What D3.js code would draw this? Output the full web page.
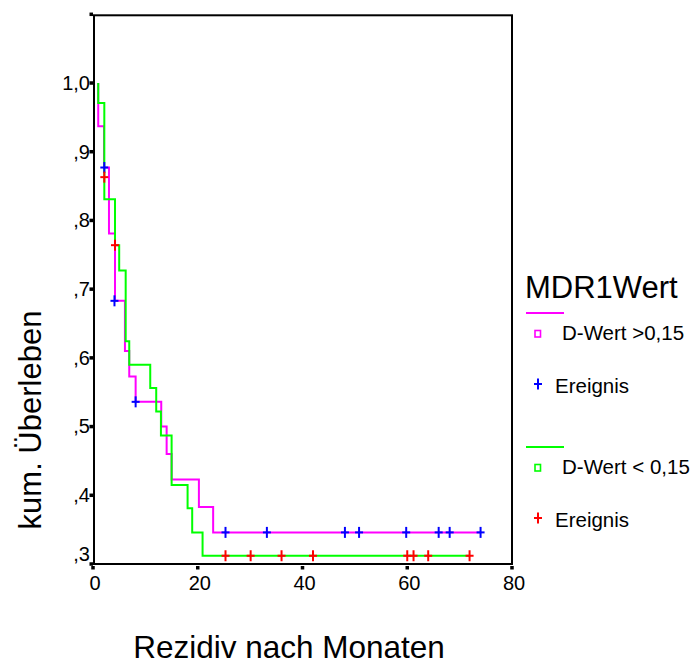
<!DOCTYPE html>
<html>
<head>
<meta charset="utf-8">
<script src="https://cdn.jsdelivr.net/npm/d3@7"></script>
<style>
  body { margin: 0; background: #fff; }
  svg text { font-family: Arial, "Liberation Sans", sans-serif; fill: #000; }
</style>
</head>
<body>
<div id="chart"></div>
<script>
// Kaplan-Meier steps (months, kum. Ueberleben)
const highTimes = [1.0, 1.0, 2.1, 3.05, 4.2, 6.1, 6.92, 8.14, 13.03, 14.06, 15.01, 20.22, 22.94, 74.0];
const highSurv = [1.0, 0.937, 0.877, 0.781, 0.683, 0.61, 0.573, 0.536, 0.5, 0.46, 0.423, 0.383, 0.346, 0.346];
const highCensorTimes = [2.16, 4.1, 8.14, 25.3, 33.2, 48.1, 50.8, 59.8, 66.0, 68.1, 74.0];
const highCensorSurv = [0.877, 0.683, 0.536, 0.346, 0.346, 0.346, 0.346, 0.346, 0.346, 0.346, 0.346];

const lowTimes = [1.0, 1.0, 2.16, 4.2, 5.0, 6.24, 6.92, 10.93, 12.07, 12.97, 15.01, 18.06, 18.94, 20.92, 72.0];
const lowSurv = [1.0, 0.971, 0.831, 0.764, 0.727, 0.624, 0.59, 0.556, 0.522, 0.487, 0.415, 0.381, 0.346, 0.312, 0.312];
const lowCensorTimes = [2.16, 4.2, 25.3, 30.1, 36.0, 42.0, 60.0, 61.2, 64.0, 71.9];
const lowCensorSurv = [0.863, 0.764, 0.312, 0.312, 0.312, 0.312, 0.312, 0.312, 0.312, 0.312];

const xTicks = [0, 20, 40, 60, 80];
const yTicks = [0.3, 0.4, 0.5, 0.6, 0.7, 0.8, 0.9, 1.0, 1.1];
const yTickLabels = [",3", ",4", ",5", ",6", ",7", ",8", ",9", "1,0", ""];

const width = 698;
const height = 658;

const x = d3.scaleLinear().domain([0, 80]).range([93, 512]);
const y = d3.scaleLinear().domain([0.3, 1.1]).range([564, 14.3]);

const svg = d3
  .select("#chart")
  .append("svg")
  .attr("width", width)
  .attr("height", height);

// frame
svg
  .append("rect")
  .attr("x", 94)
  .attr("y", y(1.1) + 1)
  .attr("width", x(80) - 94)
  .attr("height", y(0.3) - y(1.1) - 1)
  .attr("fill", "none")
  .attr("stroke", "#000")
  .attr("stroke-width", 2);

// y axis labels
const yAxis = svg
  .append("g")
  .attr("transform", "translate(94,0)")
  .call(
    d3
      .axisLeft(y)
      .tickValues(yTicks)
      .tickSize(0)
      .tickPadding(4)
      .tickFormat((d, i) => yTickLabels[i])
  );
yAxis.select(".domain").remove();
yAxis.selectAll("text").attr("font-size", 20).attr("font-family", null);
// SPSS lifts the lowest label off the x axis
yAxis
  .selectAll(".tick")
  .filter((d) => d === 0.3)
  .select("text")
  .attr("y", -10);

// small square tick marks
svg
  .append("g")
  .selectAll("rect")
  .data(yTicks)
  .enter()
  .append("rect")
  .attr("x", 89.5)
  .attr("y", (d) => y(d) - 1.75)
  .attr("width", 3.5)
  .attr("height", 3.5)
  .attr("fill", "#000");

const xAxis = svg
  .append("g")
  .attr("transform", `translate(0,${y(0.3)})`)
  .call(d3.axisBottom(x).tickValues(xTicks).tickSize(0).tickPadding(12));
xAxis.select(".domain").remove();
xAxis
  .selectAll("text")
  .attr("font-size", 20)
  .attr("font-family", null)
  .attr("x", 1.5);

svg
  .append("g")
  .selectAll("rect")
  .data(xTicks)
  .enter()
  .append("rect")
  .attr("x", (d) => x(d) - 1.75)
  .attr("y", y(0.3) + 2)
  .attr("width", 3.5)
  .attr("height", 3.5)
  .attr("fill", "#000");

// axis titles
svg
  .append("text")
  .attr("transform", "translate(41,420) rotate(-90)")
  .attr("text-anchor", "middle")
  .attr("font-size", 31)
  .text("kum. Überleben");

svg
  .append("text")
  .attr("x", 289)
  .attr("y", 658)
  .attr("text-anchor", "middle")
  .attr("font-size", 31.5)
  .text("Rezidiv nach Monaten");

// survival curves
const step = d3
  .line()
  .x((d) => x(d[0]))
  .y((d) => y(d[1]))
  .curve(d3.curveStepAfter);

const curves = [
  { times: highTimes, surv: highSurv, color: "#ff00ff" },
  { times: lowTimes, surv: lowSurv, color: "#00ff00" },
];

curves.forEach((c) => {
  svg
    .append("path")
    .attr("d", step(c.times.map((t, i) => [t, c.surv[i]])))
    .attr("fill", "none")
    .attr("stroke", c.color)
    .attr("stroke-width", 2);
});

// censored marks
const plus = (g, cx, cy, color) => {
  g.append("line")
    .attr("x1", cx - 4)
    .attr("x2", cx + 4)
    .attr("y1", cy)
    .attr("y2", cy)
    .attr("stroke", color)
    .attr("stroke-width", 2);
  g.append("line")
    .attr("x1", cx)
    .attr("x2", cx)
    .attr("y1", cy - 5.5)
    .attr("y2", cy + 5.5)
    .attr("stroke", color)
    .attr("stroke-width", 2);
};

const marks = svg.append("g");
highCensorTimes.forEach((t, i) => plus(marks, x(t), y(highCensorSurv[i]), "#0000ff"));
lowCensorTimes.forEach((t, i) => plus(marks, x(t), y(lowCensorSurv[i]), "#ff0000"));

// legend
const legend = svg.append("g");
legend
  .append("text")
  .attr("x", 525)
  .attr("y", 298)
  .attr("font-size", 31)
  .text("MDR1Wert");

const legendRows = [
  { label: "D-Wert >0,15", color: "#ff00ff", mark: "#0000ff", top: 313 },
  { label: "D-Wert < 0,15", color: "#00ff00", mark: "#ff0000", top: 447 },
];

legendRows.forEach((r) => {
  legend
    .append("line")
    .attr("x1", 526)
    .attr("x2", 564)
    .attr("y1", r.top)
    .attr("y2", r.top)
    .attr("stroke", r.color)
    .attr("stroke-width", 2);
  legend
    .append("rect")
    .attr("x", 535)
    .attr("y", r.top + 17.5)
    .attr("width", 5.5)
    .attr("height", 6.5)
    .attr("fill", "none")
    .attr("stroke", r.color)
    .attr("stroke-width", 1.6);
  legend
    .append("text")
    .attr("x", 562)
    .attr("y", r.top + 27)
    .attr("font-size", 20.5)
    .text(r.label);
  plus(legend, 538, r.top + 71, r.mark);
  legend
    .append("text")
    .attr("x", 555)
    .attr("y", r.top + 80)
    .attr("font-size", 20.5)
    .text("Ereignis");
});
</script>
</body>
</html>
